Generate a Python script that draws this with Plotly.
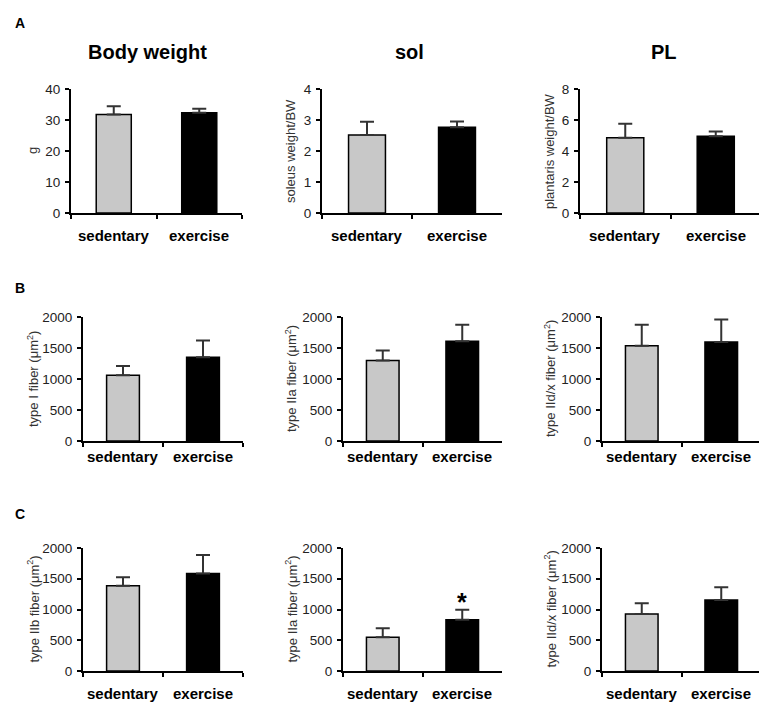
import plotly.graph_objects as go

# data
categories = ["sedentary", "exercise"]

body_weight = [31.8, 32.3]
body_weight_err = [2.6, 1.3]
sol_weight = [2.52, 2.77]
sol_weight_err = [0.42, 0.18]
pl_weight = [4.86, 4.95]
pl_weight_err = [0.9, 0.3]

sol_type1 = [1060, 1350]
sol_type1_err = [150, 270]
sol_type2a = [1300, 1610]
sol_type2a_err = [160, 265]
sol_type2dx = [1535, 1595]
sol_type2dx_err = [340, 365]

pl_type2b = [1385, 1585]
pl_type2b_err = [140, 300]
pl_type2a = [550, 835]
pl_type2a_err = [145, 160]
pl_type2dx = [925, 1155]
pl_type2dx_err = [175, 205]

W, H = 767, 705
FONT = "Arial, Liberation Sans, sans-serif"
bar_colors = ["#c8c8c8", "#000000"]


# the page body adds an 8px offset, so map target pixels to paper fractions
def fx(px):
    return (px - 8) / W


def fy(py):
    return 1 - (py - 8) / H


# (values, errors, y max, y dtick, y title, x px span, y px span)
panels = [
    (body_weight, body_weight_err, 40, 10, "g", (71, 242), (89, 213)),
    (sol_weight, sol_weight_err, 4, 1, "soleus weight/BW", (322, 502), (89, 213)),
    (pl_weight, pl_weight_err, 8, 2, "plantaris weight/BW", (580, 761), (89, 213)),
    (sol_type1, sol_type1_err, 2000, 500, "type I fiber (μm<sup>2</sup>)", (83, 243), (317, 441)),
    (sol_type2a, sol_type2a_err, 2000, 500, "type IIa fiber (μm<sup>2</sup>)", (343, 502), (317, 441)),
    (sol_type2dx, sol_type2dx_err, 2000, 500, "type IId/x fiber (μm<sup>2</sup>)", (602, 761), (317, 441)),
    (pl_type2b, pl_type2b_err, 2000, 500, "type IIb fiber (μm<sup>2</sup>)", (83, 243), (548, 671)),
    (pl_type2a, pl_type2a_err, 2000, 500, "type IIa fiber (μm<sup>2</sup>)", (343, 502), (548, 671)),
    (pl_type2dx, pl_type2dx_err, 2000, 500, "type IId/x fiber (μm<sup>2</sup>)", (602, 761), (548, 671)),
]
ytitle_x = [33, 291, 550]
catlabel_y = [235, 456, 693]

fig = go.Figure()
annotations = []
layout = {}

for i, (vals, errs, ymax, dtick, ytitle, (x0, x1), (y0, y1)) in enumerate(panels):
    n = i + 1
    sfx = "" if n == 1 else str(n)
    fig.add_trace(go.Bar(
        x=categories, y=vals,
        marker=dict(color=bar_colors, line=dict(color="black", width=1.5)),
        width=0.41,
        error_y=dict(type="data", array=errs, arrayminus=[0, 0], symmetric=False,
                     color="#333333", thickness=2, width=7),
        xaxis="x" + sfx, yaxis="y" + sfx, showlegend=False,
    ))
    layout["xaxis" + sfx] = dict(
        domain=[fx(x0), fx(x1)], anchor="y" + sfx, range=[-0.5, 1.5],
        showline=True, linecolor="black", linewidth=2,
        ticks="outside", ticklen=4, tickwidth=2, tickcolor="black",
        tickson="boundaries", showticklabels=False, showgrid=False, zeroline=False,
        automargin=False,
    )
    layout["yaxis" + sfx] = dict(
        domain=[fy(y1), fy(y0)], anchor="x" + sfx, range=[0, ymax],
        dtick=dtick, showline=True, linecolor="black", linewidth=2,
        ticks="outside", ticklen=4, tickwidth=2, tickcolor="black",
        tickfont=dict(size=13.5, color="#222", family=FONT), ticklabelstandoff=2,
        showgrid=False, zeroline=False, automargin=False,
    )
    col, row = i % 3, i // 3
    annotations.append(dict(
        text=ytitle, textangle=-90, xref="paper", yref="paper",
        x=fx(ytitle_x[col]), y=fy((y0 + y1) / 2),
        showarrow=False, font=dict(size=13, color="#333", family=FONT),
        xanchor="center", yanchor="middle",
    ))
    for c in categories:
        annotations.append(dict(
            text="<b>%s</b>" % c, xref="x" + sfx, yref="paper", x=c,
            y=fy(catlabel_y[row]), showarrow=False,
            font=dict(size=15, color="black", family=FONT),
            xanchor="center", yanchor="middle",
        ))

# column titles and panel letters
for txt, px in [("Body weight", 147), ("sol", 409), ("PL", 664)]:
    annotations.append(dict(text="<b>%s</b>" % txt, xref="paper", yref="paper",
                            x=fx(px), y=fy(52), showarrow=False,
                            xanchor="center", yanchor="middle",
                            font=dict(size=20, color="black", family=FONT)))
for txt, py in [("A", 23), ("B", 288), ("C", 514)]:
    annotations.append(dict(text="<b>%s</b>" % txt, xref="paper", yref="paper",
                            x=fx(20), y=fy(py), showarrow=False,
                            xanchor="center", yanchor="middle",
                            font=dict(size=14, color="black", family=FONT)))

# significance star
annotations.append(dict(text="<b>*</b>", xref="x8", yref="y8", x="exercise", y=1115,
                        showarrow=False, xanchor="center", yanchor="middle",
                        font=dict(size=25, color="black", family=FONT)))

fig.update_layout(
    width=W, height=H, margin=dict(l=0, r=0, t=0, b=0),
    paper_bgcolor="white", plot_bgcolor="white",
    annotations=annotations, **layout,
)

fig.write_html("out.html")
